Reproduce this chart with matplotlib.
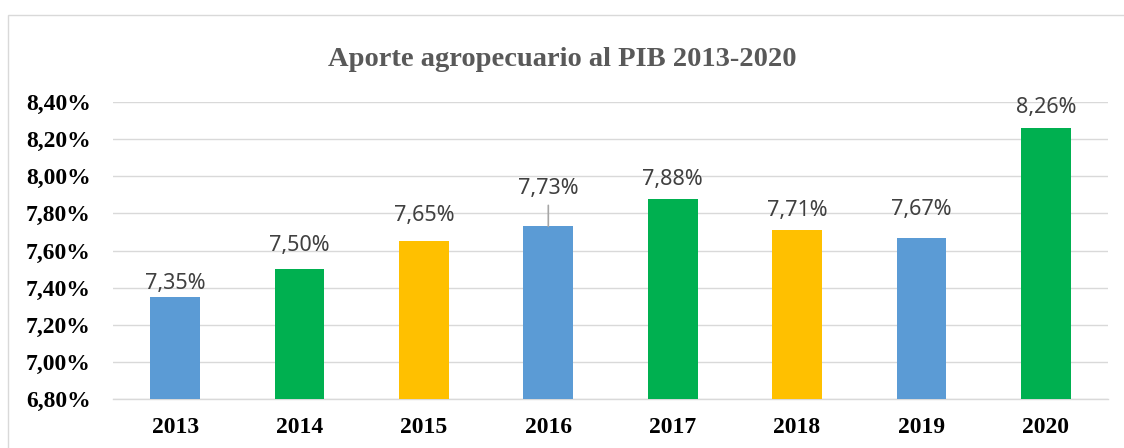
import matplotlib
matplotlib.use("Agg")
import matplotlib.pyplot as plt
from matplotlib.ticker import FuncFormatter
from matplotlib.patches import Rectangle

years = ["2013", "2014", "2015", "2016", "2017", "2018", "2019", "2020"]
values = [7.35, 7.50, 7.65, 7.73, 7.88, 7.71, 7.67, 8.26]
colors = ["#5B9BD5", "#00B050", "#FFC000", "#5B9BD5", "#00B050", "#FFC000", "#5B9BD5", "#00B050"]
labels = ["7,35%", "7,50%", "7,65%", "7,73%", "7,88%", "7,71%", "7,67%", "8,26%"]
title = "Aporte agropecuario al PIB 2013-2020"

# label offsets above bar tops (pixels), as placed in the original
label_gap_px = [8, 18, 20, 32, 14, 14, 23, 15]

fig = plt.figure(figsize=(11.24, 4.48), dpi=100)
fig.patches.append(Rectangle((8/1124, -0.1), 1.2, 1 - 15/448 + 0.1, transform=fig.transFigure,
                             fill=False, edgecolor="#D9D9D9", linewidth=1.0))
ax = fig.add_axes([113/1124, 1 - 399/448, (1108 - 113)/1124, (399 - 102)/448])

x = list(range(len(years)))
ax.bar(x, values, width=0.4, color=colors, zorder=3)
ax.set_ylim(6.80, 8.40)
ax.set_xlim(-0.5, len(years) - 0.5)
ax.set_yticks([6.80 + 0.2 * i for i in range(9)])
ax.yaxis.set_major_formatter(FuncFormatter(lambda v, p: f"{v:.2f}%".replace(".", ",")))
ax.set_xticks(x)
ax.set_xticklabels(years)
ax.grid(axis="y", color="#D9D9D9", linewidth=1.0, zorder=0)
for s in ["top", "right", "left"]:
    ax.spines[s].set_visible(False)
ax.spines["bottom"].set_color("#D9D9D9")
ax.spines["bottom"].set_linewidth(1.0)
ax.tick_params(axis="both", length=0)
ax.tick_params(axis="y", pad=16)
ax.tick_params(axis="x", pad=13)
for t in ax.get_yticklabels() + ax.get_xticklabels():
    t.set_fontfamily("Liberation Serif")
    t.set_fontweight("bold")
    t.set_fontsize(17)
    t.set_color("black")

for i, (v, lab, g) in enumerate(zip(values, labels, label_gap_px)):
    ax.annotate(lab, xy=(i, v), xytext=(0, g * 0.72), textcoords="offset points",
                ha="center", va="baseline", fontsize=15.5, color="#404040", family="Noto Sans",
                zorder=4)
    if g > 30:
        ax.annotate("", xy=(i, v), xytext=(0, 21 * 0.72), textcoords="offset points",
                    arrowprops=dict(arrowstyle="-", color="#A6A6A6", lw=1.2, shrinkA=0, shrinkB=0))

fig.text(0.5, 1 - 66/448, title, ha="center", va="baseline", fontsize=20.5, fontweight="bold",
         family="Liberation Serif", color="#595959")

fig.savefig("out.png", dpi=100)
